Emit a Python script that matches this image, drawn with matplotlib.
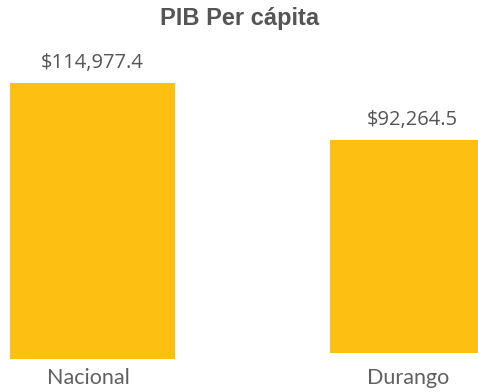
import matplotlib.pyplot as plt

# PIB per capita, nacional vs Durango
categorias = ["Nacional", "Durango"]
valores = [114977.4, 92264.5]
etiquetas = ["$114,977.4", "$92,264.5"]

W, H = 478, 392
COLOR_BARRA = "#FCBF12"
GRIS = "#555555"

fig = plt.figure(figsize=(W / 100, H / 100), dpi=100)
fig.patch.set_facecolor("white")

# each bar lives in its own panel: (left px, bottom px, top px of bar)
paneles = [(10, 359, 83), (330, 353, 140)]
ancho_px = 165
tope_px = 40

for cat, val, txt, (x0, y_base, y_top) in zip(categorias, valores, etiquetas, paneles):
    alto = y_base - tope_px
    ax = fig.add_axes([x0 / W, (H - y_base) / H, ancho_px / W, alto / H])
    ax.bar([0], [val], width=1.0, color=COLOR_BARRA)
    ax.set_xlim(-0.5, 0.5)
    ax.set_ylim(0, val * alto / (y_base - y_top))
    ax.axis("off")
    ax.annotate(txt, xy=(0, val), xytext=(0, 20), textcoords="offset pixels",
                ha="center", va="center", fontsize=14.5, color=GRIS,
                family="Open Sans")
    ax.annotate(cat, xy=(0, 0), xytext=(-4, -(378 - y_base)),
                textcoords="offset pixels", ha="center", va="center",
                fontsize=15.5, color="#606060", family="Lato")

fig.text(240 / W, 1 - 18 / H, "PIB Per cápita", ha="center", va="center",
         fontsize=17, fontweight="bold", color=GRIS, family="Liberation Sans")

fig.savefig("out.png", dpi=100)
